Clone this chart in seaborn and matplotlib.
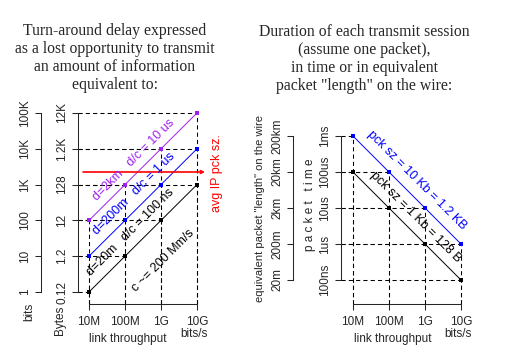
import matplotlib
matplotlib.use("Agg")
import matplotlib.pyplot as plt
from matplotlib.ticker import NullLocator
import seaborn as sns

# link rates (bits/s)
rates = [1e7, 1e8, 1e9, 1e10]
rate_labels = ["10M", "100M", "1G", "10G"]

# left panel: information lost in one turn-around, in bits
bits_20m = [1, 10, 100, 1000]
bits_200m = [10, 100, 1000, 10000]
bits_2km = [100, 1000, 10000, 100000]
avg_ip_bits = 2250

bit_ticks = [1, 10, 100, 1e3, 1e4, 1e5]
bit_labels = ["1", "10", "100", "1K", "10K", "100K"]
byte_labels = ["0.12", "1.2", "12", "128", "1.2K", "12K"]

# right panel: time on the wire per packet, in seconds
time_10kb = [1e-3, 1e-4, 1e-5, 1e-6]
time_1kb = [1e-4, 1e-5, 1e-6, 1e-7]
time_ticks = [1e-7, 1e-6, 1e-5, 1e-4, 1e-3]
time_labels = ["100ns", "1us", "10us", "100us", "1ms"]
length_labels = ["20m", "200m", "2km", "20km", "200km"]

PURPLE = "#A020F0"
BLUE = "#0000FF"
RED = "#FF0000"

sns.set_style("ticks")
plt.rcParams["font.family"] = ["Liberation Sans", "DejaVu Sans"]
plt.rcParams["axes.linewidth"] = 0.75

W, H = 507, 356
fig = plt.figure(figsize=(W / 100, H / 100), dpi=100)


def box(x0, y0, x1, y1):
    # pixel box (top-left origin) -> figure fraction rect
    return [x0 / W, 1 - y1 / H, (x1 - x0) / W, (y1 - y0) / H]


def ftext(x, y, s, **kw):
    kw.setdefault("ha", "center")
    kw.setdefault("va", "center")
    fig.text(x / W, 1 - y / H, s, **kw)


def style_axis(ax, yticks, ylabels, ybounds):
    ax.set_xticks(rates, labels=rate_labels)
    ax.set_yticks(yticks, labels=ylabels)
    ax.xaxis.set_minor_locator(NullLocator())
    ax.yaxis.set_minor_locator(NullLocator())
    ax.spines["top"].set_visible(False)
    ax.spines["right"].set_visible(False)
    ax.spines["bottom"].set_bounds(rates[0], rates[-1])
    ax.spines["left"].set_bounds(*ybounds)
    ax.tick_params(direction="out", length=4.5, width=0.75, labelsize=8.5, pad=2.5)
    ax.tick_params(axis="x", pad=4)
    for lbl in ax.get_yticklabels():
        lbl.set_rotation(90)
        lbl.set_va("center")
    ax.set_facecolor("none")
    ax.set_xlabel("")
    ax.set_ylabel("")


def add_second_axis(ax, loc, yticks, ylabels, ybounds):
    sec = ax.secondary_yaxis(loc)
    sec.set_yticks(yticks, labels=ylabels)
    sec.yaxis.set_minor_locator(NullLocator())
    sec.spines["left"].set_bounds(*ybounds)
    sec.tick_params(direction="out", length=4.5, width=0.75, labelsize=8.5, pad=2.5)
    for lbl in sec.get_yticklabels():
        lbl.set_rotation(90)
        lbl.set_va("center")
    return sec


def draw_series(ax, ys, color):
    x0 = ax.get_xlim()[0]
    y0 = ax.get_ylim()[0]
    ax.hlines(ys, x0, rates, colors="black", lw=0.75, linestyles=(0, (4, 3)), zorder=1)
    ax.vlines(rates, y0, ys, colors="black", lw=0.75, linestyles=(0, (4, 3)), zorder=1)
    sns.lineplot(x=rates, y=ys, color=color, lw=0.7, marker="s", markersize=3.2,
                 markeredgewidth=0, ax=ax, zorder=3)


# ---------------- left panel ----------------
axL = fig.add_axes(box(78, 101, 208, 304))
axL.set_xscale("log")
axL.set_yscale("log")
axL.set_xlim(10 ** 6.6944, 10 ** 10.3056)
axL.set_ylim(10 ** -0.335, 10 ** 5.335)

for ys, c in [(bits_20m, "black"), (bits_200m, BLUE), (bits_2km, PURPLE)]:
    draw_series(axL, ys, c)
axL.set_xlim(10 ** 6.6944, 10 ** 10.3056)
axL.set_ylim(10 ** -0.335, 10 ** 5.335)

axL.annotate("", xy=(0.977, avg_ip_bits), xytext=(0.0385, avg_ip_bits),
             xycoords=("axes fraction", "data"), textcoords=("axes fraction", "data"),
             arrowprops=dict(arrowstyle="->,head_length=0.2,head_width=0.1",
                             color=RED, lw=1.2, shrinkA=0, shrinkB=0))

style_axis(axL, bit_ticks, byte_labels, (bit_ticks[0], bit_ticks[-1]))
add_second_axis(axL, (41 - 78) / 130, bit_ticks, bit_labels, (bit_ticks[0], bit_ticks[-1]))

ftext(134, 160, "d=2km   d/c = 10 us", rotation=45, rotation_mode="anchor",
      color=PURPLE, fontsize=9)
ftext(134.5, 193.5, "d=200m   d/c = 1 us", rotation=45, rotation_mode="anchor",
      color=BLUE, fontsize=9)
ftext(131, 232.5, "d=20m   d/c = 100 ns", rotation=45, rotation_mode="anchor",
      color="black", fontsize=9)
ftext(163.5, 261, "c ~= 200 Mm/s", rotation=45, rotation_mode="anchor",
      color="black", fontsize=9)
ftext(217, 173, "avg IP pck sz.", rotation=90, color=RED, fontsize=9)

ftext(29, 312, "bits", rotation=90, fontsize=8.5)
ftext(60, 320, "Bytes", rotation=90, fontsize=8.5)
ftext(128, 339, "link throughput", fontsize=8.5)
ftext(194, 334, "bits/s", fontsize=8.5)

for i, line in enumerate(["Turn-around delay expressed",
                          "as a lost opportunity to transmit",
                          "an amount of information",
                          "equivalent to:"]):
    ftext(114.5, 31 + 18 * i, line, family="Liberation Serif", fontsize=11.3)

# ---------------- right panel ----------------
axR = fig.add_axes(box(341, 125, 472, 304))
axR.set_xscale("log")
axR.set_yscale("log")
axR.set_xlim(10 ** 6.667, 10 ** 10.306)
axR.set_ylim(10 ** -7.667, 10 ** -2.694)

for ys, c in [(time_1kb, "black"), (time_10kb, BLUE)]:
    draw_series(axR, ys, c)
axR.set_xlim(10 ** 6.667, 10 ** 10.306)
axR.set_ylim(10 ** -7.667, 10 ** -2.694)

style_axis(axR, time_ticks, time_labels, (time_ticks[0], time_ticks[-1]))
add_second_axis(axR, (293 - 341) / 131, time_ticks, length_labels,
                (time_ticks[0], time_ticks[-1]))

ftext(417, 180.5, "pck sz = 10 Kb = 1.2 KB", rotation=-45, rotation_mode="anchor",
      color=BLUE, fontsize=9)
ftext(416, 217, "pck sz = 1 Kb = 128 B", rotation=-45, rotation_mode="anchor",
      color="black", fontsize=9)

ftext(260, 209, 'equivalent packet "length" on the wire', rotation=90, fontsize=8)
ftext(310, 205, "p a c k e t   t i m e", rotation=90, fontsize=8.5)
ftext(392.5, 339, "link throughput", fontsize=8.5)
ftext(458, 334, "bits/s", fontsize=8.5)

for i, line in enumerate(["Duration of each transmit session",
                          "(assume one packet),",
                          "in time or in equivalent",
                          'packet "length" on the wire:']):
    ftext(364.5, 32 + 18 * i, line, family="Liberation Serif", fontsize=11.3)

fig.savefig("out.png", dpi=100, facecolor="white")
